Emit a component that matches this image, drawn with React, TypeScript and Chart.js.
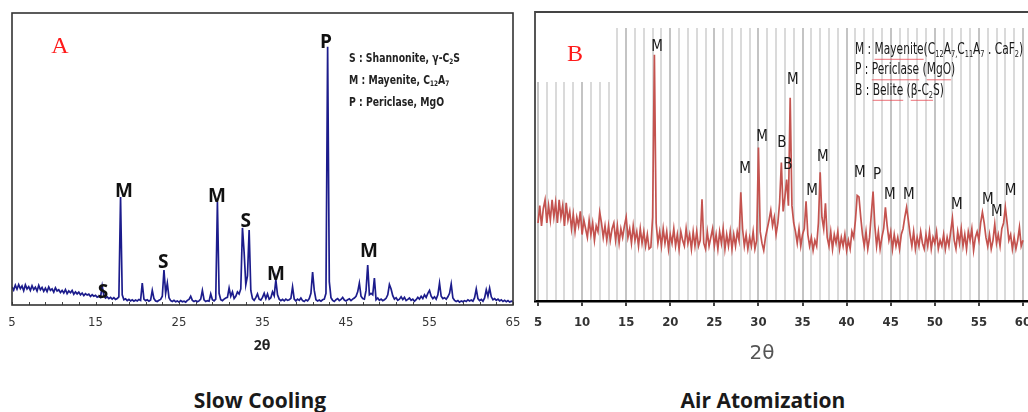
import React, { useEffect, useRef } from "react";
import { Chart, registerables } from "chart.js";

Chart.register(...registerables);

// ---------------- DATA ----------------
// Panel A (Slow Cooling): 2θ from 5 to 65 sampled every 0.2°
const A_START = 5;
const A_STEP = 0.2;
const intensityA = [
  6.2, 5.1, 6.8, 5.4, 7.0, 5.6, 6.5, 4.9, 6.9, 5.5,
  6.3, 5.0, 6.6, 5.3, 6.1, 4.8, 6.7, 5.2, 6.0, 4.7,
  5.8, 4.6, 6.2, 5.0, 5.5, 4.4, 5.9, 4.8, 5.2, 4.3,
  5.0, 4.1, 5.3, 3.9, 4.8, 4.2, 5.0, 3.7, 4.5, 3.8,
  4.4, 3.5, 4.1, 3.2, 3.9, 3.4, 3.7, 2.9, 3.5, 3.0,
  3.3, 2.7, 3.0, 2.6, 6.5, 3.2, 2.4, 2.8, 2.2, 2.6,
  2.0, 2.5, 1.9, 2.2, 2.8, 37.0, 3.5, 1.8, 2.1, 1.5,
  1.9, 1.4, 1.8, 1.3, 1.7, 1.4, 1.9, 1.6, 7.5, 2.0,
  1.5, 1.8, 1.3, 1.7, 5.0, 2.2, 1.4, 1.2, 1.6, 1.9,
  3.0, 12.0, 4.0, 7.5, 2.5, 1.5, 1.2, 1.6, 1.1, 1.4,
  1.0, 1.5, 1.1, 1.3, 1.0, 1.6, 1.9, 3.0, 1.6, 1.2,
  1.5, 1.1, 1.4, 2.0, 5.0, 1.8, 1.2, 1.5, 1.3, 3.8,
  1.8, 1.4, 2.0, 35.3, 4.0, 1.8, 1.5, 2.0, 2.4, 2.6,
  5.8, 3.0, 4.5, 2.2, 3.0, 4.5, 3.8, 5.5, 26.4, 18.0,
  7.0, 10.0, 25.7, 5.0, 2.2, 1.6, 2.5, 3.8, 2.0, 1.7,
  2.6, 4.0, 2.2, 3.8, 2.0, 2.5, 4.5, 3.2, 8.6, 3.5,
  2.0, 1.5, 1.9, 1.4, 2.0, 1.6, 1.8, 2.3, 6.2, 2.0,
  1.4, 2.0, 1.6, 2.4, 1.5, 1.2, 1.8, 1.4, 2.2, 4.0,
  11.3, 5.0, 1.8, 1.4, 1.7, 1.3, 1.8, 2.0, 4.0, 88.4,
  8.0, 2.5, 1.6, 1.2, 1.8, 2.2, 1.5, 1.9, 2.6, 1.7,
  1.4, 1.8, 2.1, 1.5, 2.0, 2.4, 3.0, 4.5, 7.5, 3.0,
  2.2, 2.0, 5.0, 13.7, 3.5, 4.0, 3.5, 9.2, 1.8, 2.4,
  1.6, 2.0, 1.5, 1.8, 2.3, 3.5, 7.0, 5.5, 3.2, 2.0,
  2.5, 1.6, 2.0, 2.8, 1.9, 2.6, 1.5, 1.9, 2.4, 1.6,
  2.0, 1.3, 1.8, 2.6, 2.0, 3.0, 2.2, 3.5, 2.6, 4.0,
  5.0, 3.0, 2.2, 2.8, 2.0, 3.5, 7.5, 3.0, 2.2, 2.5,
  2.0, 2.8, 4.0, 7.2, 2.4, 1.6, 1.2, 1.5, 1.0, 1.4,
  1.1, 1.5, 1.2, 1.8, 1.4, 1.7, 1.3, 2.5, 5.5, 2.2,
  1.5, 1.9, 1.3, 2.4, 5.2, 3.0, 5.8, 2.8, 1.8, 2.2,
  1.6, 2.0, 1.4, 1.8, 1.2, 1.6, 1.1, 1.5, 1.0, 1.3,
  1.2,
];

// Panel B (Air Atomization): 2θ from 5 to 60 sampled every 0.2°
const B_START = 5;
const B_STEP = 0.2;
const intensityB = [
  27, 33, 26, 32, 35, 27, 33, 28, 35, 29,
  34, 27, 35, 29, 33, 26, 34, 28, 31, 25,
  30, 24, 29, 26, 31, 23, 28, 25, 22, 28,
  23, 27, 21, 26, 24, 30.7, 27, 22, 26, 21,
  26, 21, 25, 27, 21, 26, 20, 25, 22, 26,
  29, 22, 25, 20, 26, 21, 24, 19, 25, 20,
  24, 19, 23, 18, 18.6, 29, 85.2, 27, 20, 24,
  19, 25, 20, 24, 18, 23, 20, 25, 19, 23,
  18, 24, 21, 19, 25, 20, 23, 18, 24, 19,
  24, 19, 21, 35.2, 20, 18, 24, 19, 22, 25,
  19, 23, 18, 24, 20, 25, 18, 23, 19, 24,
  18, 23, 19, 24, 21, 37.6, 25, 19, 23, 18,
  22, 19, 24, 18, 21, 53.1, 24, 20, 17.5, 22,
  25, 28, 31.4, 26, 29, 23, 27, 34, 47.9, 31,
  36, 42, 33, 70.3, 33, 27, 24, 20, 25, 19,
  23, 25, 34.5, 23, 19, 22, 17.5, 21, 19, 27,
  44.5, 29, 25, 33.8, 22, 19, 24, 18, 23, 20,
  24, 18, 22, 19, 23, 17.5, 21, 18, 24, 22,
  28, 36.5, 36, 29, 23, 19, 24, 18, 22, 30,
  37.9, 26, 19, 24, 18, 22, 25, 32.4, 26, 21,
  24, 18, 23, 19, 22, 18, 23, 25, 29, 32.4,
  28, 23, 19, 24, 18, 22, 19, 24, 20, 18,
  23, 19, 24, 18, 22, 20, 24, 18, 21, 19,
  23, 18, 22, 19, 24, 28.6, 21, 18, 24, 20,
  25, 19, 23, 18, 24, 21, 25, 17.5, 22, 24,
  21, 27, 30.7, 27, 22, 19, 23, 18, 21, 26.6,
  20, 23, 19, 25, 27, 32.4, 27, 21, 23, 18,
  22, 18, 21, 25.5, 19, 21,
];

// Axis ranges (2θ)
const A_MIN = 5;
const A_MAX = 65;
const B_MIN = 4.66;
const B_MAX = 60.57;

// Peak annotations (2θ, intensity, phase letter)
const peakLabelA_theta = [15.9, 18.4, 23.1, 29.55, 33.0, 36.6, 42.6, 47.75];
const peakLabelA_int = [4.1, 39.0, 14.4, 37.0, 28.4, 10.3, 89.7, 18.2];
const peakLabelA_text = ["S", "M", "S", "M", "S", "M", "P", "M"];

const peakLabelB_theta = [18.49, 33.9, 30.4, 32.66, 33.35, 28.47, 37.3, 36.07, 41.5, 43.44, 44.9, 47.06, 52.5, 56.0, 57.04, 58.6];
const peakLabelB_int = [87.9, 76.6, 56.6, 54.5, 46.9, 45.5, 49.7, 37.9, 44.1, 43.4, 36.6, 36.6, 33.1, 34.8, 30.7, 37.9];
const peakLabelB_text = ["M", "M", "M", "B", "B", "M", "M", "M", "M", "P", "M", "M", "M", "M", "M", "M"];

// ---------------- STYLE ----------------
const NARROW = "'Liberation Sans Narrow', 'DejaVu Sans Condensed', 'Arial Narrow', sans-serif";
const BOLDSANS = "'Open Sans', 'Noto Sans', sans-serif";
const SERIF = "'Liberation Serif', 'DejaVu Serif', serif";

type Seg = { t: string; sub?: boolean; u?: boolean };

function drawRich(
  ctx: CanvasRenderingContext2D,
  segs: Seg[],
  x: number,
  y: number,
  size: number,
  weight: string,
  family: string,
  color: string,
  sx: number
) {
  ctx.save();
  ctx.translate(x, y);
  ctx.scale(sx, 1);
  let cx = 0;
  ctx.textAlign = "left";
  ctx.textBaseline = "middle";
  for (const s of segs) {
    const sz = s.sub ? size * 0.62 : size;
    ctx.font = `${weight} ${sz}px ${family}`;
    ctx.fillStyle = color;
    const yy = s.sub ? size * 0.28 : 0;
    ctx.fillText(s.t, cx, yy);
    const w = ctx.measureText(s.t).width;
    if (s.u) {
      ctx.strokeStyle = "rgba(230,70,80,0.85)";
      ctx.lineWidth = 1;
      ctx.beginPath();
      ctx.moveTo(cx, size * 0.62);
      ctx.lineTo(cx + w, size * 0.62);
      ctx.stroke();
    }
    cx += w;
  }
  ctx.restore();
}

const legendA: Seg[][] = [
  [{ t: "S : Shannonite, γ-C" }, { t: "2", sub: true }, { t: "S" }],
  [{ t: "M : Mayenite, C" }, { t: "12", sub: true }, { t: "A" }, { t: "7", sub: true }],
  [{ t: "P : Periclase, MgO" }],
];

const legendB: Seg[][] = [
  [
    { t: "M : " }, { t: "Mayenite", u: true }, { t: "(C" }, { t: "12", sub: true }, { t: "A" }, { t: "7,", sub: true },
    { t: "C" }, { t: "11", sub: true }, { t: "A" }, { t: "7", sub: true }, { t: " . CaF" }, { t: "2", sub: true }, { t: ")" },
  ],
  [{ t: "P : " }, { t: "Periclase", u: true }, { t: " (" }, { t: "MgO", u: true }, { t: ")" }],
  [{ t: "B : " }, { t: "Belite", u: true }, { t: " (" }, { t: "β-C", u: true }, { t: "2", sub: true, u: true }, { t: "S)" }],
];

const pluginA = {
  id: "panelA",
  afterDraw(chart: any) {
    const { ctx, chartArea } = chart;
    const xs = chart.scales.x;
    const ys = chart.scales.y;
    ctx.save();
    ctx.strokeStyle = "#444";
    ctx.lineWidth = 1;
    for (const tk of xs.ticks) {
      const px = Math.round(xs.getPixelForValue(tk.value)) + 0.5;
      ctx.beginPath();
      ctx.moveTo(px, chartArea.bottom);
      ctx.lineTo(px, chartArea.bottom - 3);
      ctx.stroke();
    }
    ctx.strokeStyle = "#333";
    ctx.lineWidth = 1.6;
    ctx.strokeRect(chartArea.left, chartArea.top, chartArea.right - chartArea.left, chartArea.bottom - chartArea.top);
    ctx.fillStyle = "#ff1a1a";
    ctx.font = `24px ${SERIF}`;
    ctx.textAlign = "center";
    ctx.textBaseline = "middle";
    ctx.fillText("A", 60, 47);
    legendA.forEach((segs, i) => drawRich(ctx, segs, 349, 59 + i * 22, 12, "bold", NARROW, "#222", 0.86));
    ctx.fillStyle = "#111";
    ctx.font = `bold 19px ${BOLDSANS}`;
    ctx.textAlign = "center";
    ctx.textBaseline = "middle";
    peakLabelA_text.forEach((t, i) => {
      ctx.fillText(t, xs.getPixelForValue(peakLabelA_theta[i]), ys.getPixelForValue(peakLabelA_int[i]));
    });
    ctx.restore();
  },
};

const pluginB = {
  id: "panelB",
  beforeDatasetsDraw(chart: any) {
    const { ctx, chartArea } = chart;
    ctx.save();
    ctx.fillStyle = "#ffffff";
    ctx.fillRect(chartArea.left, chartArea.top, chartArea.right - chartArea.left, 16);
    ctx.fillRect(chartArea.left, chartArea.top, 78, 70);
    ctx.restore();
  },
  afterDraw(chart: any) {
    const { ctx, chartArea } = chart;
    const xs = chart.scales.x;
    const ys = chart.scales.y;
    ctx.save();
    ctx.strokeStyle = "#444";
    ctx.lineWidth = 1.8;
    ctx.beginPath();
    ctx.moveTo(chartArea.left, chartArea.bottom);
    ctx.lineTo(chartArea.left, chartArea.top);
    ctx.lineTo(chartArea.right + 20, chartArea.top);
    ctx.stroke();
    ctx.fillStyle = "#ff1a1a";
    ctx.font = `24px ${SERIF}`;
    ctx.textAlign = "center";
    ctx.textBaseline = "middle";
    ctx.fillText("B", 55, 55);
    legendB.forEach((segs, i) => drawRich(ctx, segs, 335, 50 + i * 20.5, 15, "normal", NARROW, "#1a1a1a", 0.79));
    ctx.fillStyle = "#1a1a1a";
    ctx.font = `15px ${NARROW}`;
    ctx.textAlign = "center";
    ctx.textBaseline = "middle";
    peakLabelB_text.forEach((t, i) => {
      ctx.fillText(t, xs.getPixelForValue(peakLabelB_theta[i]), ys.getPixelForValue(peakLabelB_int[i]));
    });
    ctx.restore();
  },
};

export default function App() {
  const refA = useRef<HTMLCanvasElement | null>(null);
  const refB = useRef<HTMLCanvasElement | null>(null);

  useEffect(() => {
    const ptsA = intensityA.map((y, i) => ({ x: +(A_START + i * A_STEP).toFixed(1), y }));
    const ptsB = intensityB.map((y, i) => ({ x: +(B_START + i * B_STEP).toFixed(1), y }));

    const chartA = new Chart(refA.current as HTMLCanvasElement, {
      type: "line",
      data: {
        datasets: [
          { data: ptsA, borderColor: "#1c1c8c", borderWidth: 1.7, pointRadius: 0, tension: 0, fill: false },
        ],
      },
      options: {
        animation: false,
        responsive: false,
        events: [],
        layout: { padding: { left: 12, right: 7, top: 13, bottom: 0 } },
        plugins: { legend: { display: false }, tooltip: { enabled: false }, title: { display: false } },
        scales: {
          x: {
            type: "linear",
            min: A_MIN,
            max: A_MAX,
            ticks: {
              stepSize: 2,
              autoSkip: false,
              maxRotation: 0,
              minRotation: 0,
              padding: 10,
              color: "#333",
              font: { family: NARROW, size: 13 },
              callback: (v: any) => ((Number(v) - 5) % 10 === 0 ? String(v) : ""),
            },
            grid: { display: false, drawTicks: false },
            border: { display: false },
            afterFit: (s: any) => {
              s.height = 35;
              s.paddingLeft = 0;
              s.paddingRight = 0;
            },
          },
          y: { display: false, min: 0, max: 100 },
        },
      } as any,
      plugins: [pluginA],
    });

    const chartB = new Chart(refB.current as HTMLCanvasElement, {
      type: "line",
      data: {
        datasets: [
          { data: ptsB, borderColor: "#c4534f", borderWidth: 1.7, pointRadius: 0, tension: 0, fill: false },
        ],
      },
      options: {
        animation: false,
        responsive: false,
        events: [],
        layout: { padding: { left: 15, right: 12, top: 12, bottom: 0 } },
        plugins: { legend: { display: false }, tooltip: { enabled: false }, title: { display: false } },
        scales: {
          x: {
            type: "linear",
            min: B_MIN,
            max: B_MAX,
            ticks: {
              stepSize: 1,
              includeBounds: false,
              autoSkip: false,
              maxRotation: 0,
              minRotation: 0,
              padding: 9,
              color: "#333",
              font: { family: NARROW, size: 13, weight: "bold" },
              callback: (v: any) => (Number(v) % 5 === 0 ? String(v) : ""),
            },
            grid: {
              display: true,
              drawOnChartArea: true,
              drawTicks: true,
              tickLength: 5,
              lineWidth: 2,
              tickWidth: 1.5,
              color: (c: any) => (c.tick && c.tick.value % 5 === 0 ? "#c4c4c4" : "#dadada"),
              tickColor: (c: any) => (c.tick && c.tick.value % 5 === 0 ? "#000" : "rgba(0,0,0,0)"),
            },
            border: { display: true, color: "#000", width: 2.5 },
            afterFit: (s: any) => {
              s.height = 39;
              s.paddingLeft = 0;
              s.paddingRight = 0;
            },
          },
          y: { display: false, min: 0, max: 100 },
        },
      } as any,
      plugins: [pluginB],
    });

    return () => {
      chartA.destroy();
      chartB.destroy();
    };
  }, []);

  return (
    <div
      style={{
        position: "absolute",
        left: 0,
        top: 0,
        width: 1028,
        height: 412,
        overflow: "hidden",
        background: "#fff",
      }}
    >
      <canvas ref={refA} width={520} height={340} style={{ position: "absolute", left: 0, top: 0 }} />
      <canvas ref={refB} width={520} height={340} style={{ position: "absolute", left: 520, top: 0 }} />
      <div
        style={{
          position: "absolute",
          left: 212,
          width: 100,
          top: 335,
          textAlign: "center",
          font: `bold 14px ${BOLDSANS}`,
          lineHeight: "20px",
          color: "#222",
        }}
      >
        2θ
      </div>
      <div
        style={{
          position: "absolute",
          left: 712,
          width: 100,
          top: 339,
          textAlign: "center",
          font: `20px 'DejaVu Sans', sans-serif`,
          lineHeight: "26px",
          color: "#555",
        }}
      >
        2θ
      </div>
      <div
        style={{
          position: "absolute",
          left: 110,
          width: 300,
          top: 388,
          textAlign: "center",
          font: `bold 21px ${BOLDSANS}`,
          lineHeight: "24px",
          color: "#1a1a1a",
        }}
      >
        Slow Cooling
      </div>
      <div
        style={{
          position: "absolute",
          left: 613,
          width: 300,
          top: 388,
          textAlign: "center",
          font: `bold 21px ${BOLDSANS}`,
          lineHeight: "24px",
          color: "#1a1a1a",
        }}
      >
        Air Atomization
      </div>
    </div>
  );
}
